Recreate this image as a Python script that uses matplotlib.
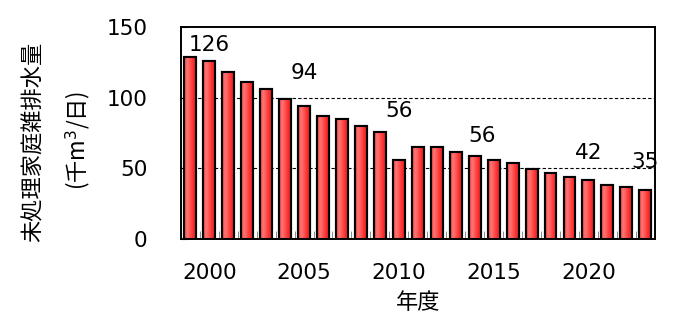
import numpy as np
import matplotlib.pyplot as plt
from matplotlib.colors import LinearSegmentedColormap

plt.rcParams['font.family'] = ['DejaVu Sans', 'Noto Sans CJK JP']

# data
years = list(range(1999, 2024))
values = [129, 126, 118, 111.5, 106, 99, 94, 87, 85, 80, 76, 56, 65.5, 65.5,
          61.5, 58.5, 56, 53.5, 49.5, 46.5, 44, 42, 38.5, 36.5, 35]
label_years = [2000, 2005, 2010, 2015, 2020, 2023]
label_texts = ['126', '94', '56', '56', '42', '35']
label_offsets = [(0, 4), (0, 17), (0, 28), (-8, 10), (0, 12), (0, 13)]  # points
xtick_years = [2000, 2005, 2010, 2015, 2020]
yticks = [0, 50, 100, 150]

fig = plt.figure(figsize=(6.9, 3.27), dpi=100)
ax = fig.add_axes([0.262, 0.269, 0.687, 0.648])

# gradient fill for bars
cmap = LinearSegmentedColormap.from_list(
    'barred', [(0.0, '#e83030'), (0.25, '#ff7a7a'), (0.75, '#ff3030'), (1.0, '#dc1a1a')])
grad = np.linspace(0, 1, 64).reshape(1, -1)

bars = ax.bar(years, values, width=0.63, color='#ff3030', edgecolor='black',
              linewidth=1.5, zorder=3)
for b in bars:
    x0, w, h = b.get_x(), b.get_width(), b.get_height()
    im = ax.imshow(grad, cmap=cmap, aspect='auto', extent=(x0, x0 + w, 0, h),
                   zorder=3.5, interpolation='bicubic')
    im.set_clip_path(b)
    # redraw edge on top
    ax.bar(b.get_x() + w / 2, h, width=w, fill=False, edgecolor='black',
           linewidth=1.5, zorder=4)

for yr, txt, off in zip(label_years, label_texts, label_offsets):
    v = values[years.index(yr)]
    ax.annotate(txt, (yr, v), xytext=off, textcoords='offset points',
                ha='center', va='bottom', fontsize=15.5, zorder=5)

ax.set_xlim(1998.5, 2023.5)
ax.set_ylim(0, 150)
ax.set_yticks(yticks)
ax.set_xticks(xtick_years)
ax.set_xticks(np.arange(1998.5, 2024, 1), minor=True)
ax.tick_params(axis='y', direction='in', length=4, pad=24, labelsize=15.5)
ax.tick_params(axis='x', which='major', direction='in', length=0, pad=17, labelsize=15.5)
ax.tick_params(axis='x', which='minor', direction='in', length=6, color='#777777')

for y in [50, 100]:
    ax.axhline(y, color='black', linestyle=(0, (3, 2)), linewidth=0.8, zorder=1)

for s in ax.spines.values():
    s.set_linewidth(1.4)

ax.set_xlabel('年度', fontsize=16, family=['Noto Sans CJK JP'], labelpad=6)
fig.text(0.048, 0.565, '未処理家庭雑排水量', rotation=90, ha='center', va='center',
         fontsize=16, family=['Noto Sans CJK JP'])
fig.text(0.113, 0.57, '(千m$^3$/日)', rotation=90, ha='center', va='center',
         fontsize=16, family=['Noto Sans CJK JP', 'DejaVu Sans'])

fig.savefig('out.png', dpi=100)
